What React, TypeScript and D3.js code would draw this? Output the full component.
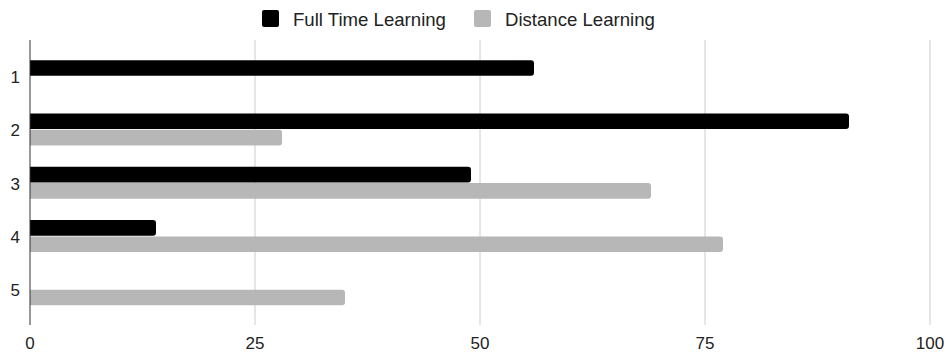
import React, { useEffect, useRef } from "react";
import * as d3 from "d3";

const categories = ["1", "2", "3", "4", "5"];
const fullTime = [56, 91, 49, 14, 0];
const distance = [0, 28, 69, 77, 35];
const xTicks = [0, 25, 50, 75, 100];
const seriesNames = ["Full Time Learning", "Distance Learning"];
const seriesColors = ["#000000", "#b7b7b7"];

const WIDTH = 947;
const HEIGHT = 356;

const App: React.FC = () => {
  const svgRef = useRef<SVGSVGElement>(null);

  useEffect(() => {
    if (!svgRef.current) return;
    const svg = d3.select(svgRef.current);
    svg.selectAll("*").remove();

    const font = "'Liberation Sans', Arial, sans-serif";
    const plotTop = 40;
    const plotBottom = 325;

    const x = d3.scaleLinear().domain([0, 100]).range([30, 930]);
    const y = d3.scaleBand<string>()
      .domain(categories)
      .range([49.5, 316])
      .paddingInner(0.4)
      .paddingOuter(0.2);
    const sub = d3.scaleBand<string>()
      .domain(seriesNames)
      .range([0, y.bandwidth()])
      .paddingInner(0.04);

    // grid lines
    svg.append("g")
      .selectAll("line")
      .data(xTicks.filter(t => t !== 0))
      .enter()
      .append("line")
      .attr("x1", d => x(d))
      .attr("x2", d => x(d))
      .attr("y1", plotTop)
      .attr("y2", plotBottom)
      .attr("stroke", "#cccccc")
      .attr("stroke-width", 1);

    // x tick labels
    svg.append("g")
      .selectAll("text")
      .data(xTicks)
      .enter()
      .append("text")
      .attr("x", d => x(d))
      .attr("y", 349)
      .attr("text-anchor", "middle")
      .attr("font-family", font)
      .attr("font-size", 17)
      .attr("fill", "#222")
      .text(d => String(d));

    // bars
    const rows = categories.map((c, i) => ({ cat: c, values: [fullTime[i], distance[i]] }));
    const r = 3;
    const barPath = (v: number, top: number, h: number) => {
      const x0 = x(0);
      const x1 = x(v);
      return `M${x0},${top}H${x1 - r}Q${x1},${top} ${x1},${top + r}V${top + h - r}Q${x1},${top + h} ${x1 - r},${top + h}H${x0}Z`;
    };

    rows.forEach(row => {
      row.values.forEach((v, si) => {
        if (!v) return;
        const top = (y(row.cat) ?? 0) + (sub(seriesNames[si]) ?? 0);
        svg.append("path")
          .attr("d", barPath(v, top, sub.bandwidth()))
          .attr("fill", seriesColors[si]);
      });
    });

    // axis line
    svg.append("line")
      .attr("x1", x(0))
      .attr("x2", x(0))
      .attr("y1", plotTop)
      .attr("y2", plotBottom)
      .attr("stroke", "#333")
      .attr("stroke-width", 1);

    // y labels
    svg.append("g")
      .selectAll("text")
      .data(categories)
      .enter()
      .append("text")
      .attr("x", 20)
      .attr("y", d => (y(d) ?? 0) + y.bandwidth() / 2 + 7)
      .attr("text-anchor", "end")
      .attr("font-family", font)
      .attr("font-size", 17)
      .attr("fill", "#222")
      .text(d => d);

    // legend
    const legendX = [262, 474];
    const legend = svg.append("g");
    seriesNames.forEach((name, i) => {
      legend.append("rect")
        .attr("x", legendX[i])
        .attr("y", 10)
        .attr("width", 17)
        .attr("height", 17)
        .attr("rx", 2)
        .attr("fill", seriesColors[i]);
      legend.append("text")
        .attr("x", legendX[i] + 31)
        .attr("y", 26)
        .attr("font-family", font)
        .attr("font-size", 18.6)
        .attr("fill", "#222")
        .text(name);
    });
  }, []);

  return (
    <div>
      <style>{`body{margin:0;}`}</style>
      <svg ref={svgRef} width={WIDTH} height={HEIGHT} style={{ display: "block", background: "#fff" }} />
    </div>
  );
};

export default App;
